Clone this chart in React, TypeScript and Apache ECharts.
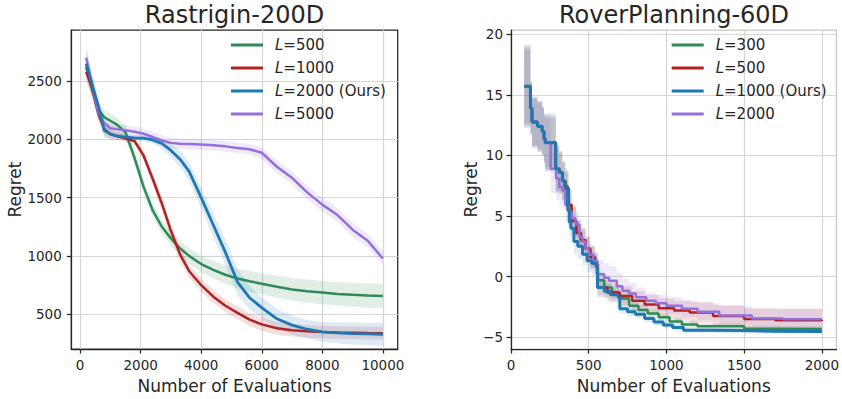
import React, { useEffect, useRef } from "react";
import * as echarts from "echarts";

// ---------- Rastrigin-200D ----------
const rastX = [200, 400, 600, 800, 1000, 1200, 1500, 1800, 2100, 2400, 2700, 3000, 3300, 3600, 4000, 4400, 4800, 5200, 5600, 6000, 6500, 7000, 7500, 8000, 8500, 9000, 9500, 10000];
const rastL500 = [2620, 2420, 2260, 2190, 2160, 2130, 2060, 1840, 1590, 1390, 1250, 1150, 1065, 1000, 930, 880, 838, 805, 782, 760, 735, 712, 697, 685, 673, 666, 660, 655];
const rastL500Spread = [80, 70, 60, 60, 60, 60, 60, 60, 60, 60, 60, 60, 60, 65, 70, 75, 80, 85, 90, 90, 95, 95, 100, 100, 100, 100, 105, 105];
const rastL1000 = [2580, 2440, 2220, 2090, 2045, 2030, 2008, 1985, 1860, 1660, 1450, 1215, 1013, 870, 748, 650, 572, 510, 452, 412, 378, 362, 352, 346, 341, 339, 337, 336];
const rastL1000Spread = [80, 70, 60, 50, 40, 35, 30, 30, 40, 50, 60, 60, 60, 55, 55, 55, 55, 55, 55, 55, 55, 55, 55, 55, 55, 55, 55, 55];
const rastL2000 = [2650, 2470, 2290, 2075, 2045, 2030, 2020, 2012, 2010, 1995, 1965, 1905, 1830, 1725, 1500, 1265, 1030, 775, 640, 555, 460, 405, 370, 348, 338, 333, 330, 327];
const rastL2000Spread = [110, 90, 80, 60, 40, 30, 25, 25, 25, 30, 40, 60, 70, 80, 90, 100, 110, 110, 100, 90, 85, 80, 80, 85, 90, 95, 95, 100];
const rastL5000 = [2700, 2470, 2230, 2140, 2095, 2088, 2078, 2065, 2048, 2020, 1990, 1970, 1963, 1960, 1955, 1950, 1940, 1925, 1915, 1885, 1765, 1670, 1545, 1440, 1350, 1225, 1130, 977];
const rastL5000Spread = [100, 80, 60, 50, 45, 45, 45, 45, 45, 45, 45, 45, 45, 45, 45, 45, 45, 45, 45, 50, 55, 55, 60, 60, 60, 60, 60, 60];
const rastXTicks = [0, 2000, 4000, 6000, 8000, 10000];
const rastYTicks = [500, 1000, 1500, 2000, 2500];

// ---------- RoverPlanning-60D ----------
const roverL300X = [85, 125, 135, 170, 200, 212, 220, 288, 310, 330, 350, 370, 390, 420, 450, 480, 510, 540, 560, 600, 650, 700, 760, 820, 880, 950, 1020, 1100, 1200, 1500, 1700, 2000];
const roverL300 = [15.7, 13.9, 12.75, 12.4, 12.0, 11.4, 11.05, 8.9, 8.6, 7.9, 7.3, 5.9, 4.6, 3.6, 3.0, 2.3, 1.6, 1.0, -0.3, -0.9, -1.3, -1.8, -2.4, -2.75, -3.05, -3.35, -3.7, -3.95, -4.1, -4.3, -4.33, -4.37];
const roverL300Spread = [3.0, 2.0, 1.9, 1.9, 1.8, 1.8, 2.0, 1.8, 1.6, 1.5, 1.3, 1.2, 1.1, 1.0, 1.0, 0.9, 0.9, 0.8, 0.7, 0.6, 0.5, 0.5, 0.45, 0.4, 0.35, 0.3, 0.3, 0.3, 0.25, 0.25, 0.25, 0.25];
const roverL500X = [85, 125, 135, 170, 200, 212, 220, 288, 310, 330, 350, 370, 390, 420, 450, 480, 510, 540, 556, 620, 700, 780, 860, 950, 1050, 1150, 1300, 1500, 1700, 2000];
const roverL500 = [15.7, 13.9, 12.75, 12.4, 12.0, 11.4, 11.05, 8.9, 8.6, 7.9, 7.3, 5.9, 4.6, 3.6, 3.0, 2.3, 1.6, 1.0, -0.9, -1.3, -1.6, -2.0, -2.3, -2.6, -2.8, -2.95, -3.25, -3.5, -3.6, -3.67];
const roverL500Spread = [3.2, 2.1, 2.0, 2.0, 2.0, 2.0, 2.2, 1.9, 1.7, 1.6, 1.4, 1.3, 1.2, 1.1, 1.0, 1.0, 0.9, 0.9, 0.8, 0.8, 0.8, 0.8, 0.8, 0.8, 0.8, 0.85, 0.9, 0.9, 0.95, 1.0];
const roverL1000X = [85, 125, 135, 170, 200, 212, 220, 288, 310, 330, 345, 365, 375, 385, 405, 430, 460, 490, 520, 550, 556, 600, 640, 690, 700, 750, 800, 860, 920, 980, 1040, 1110, 1300, 1500, 1700, 2000];
const roverL1000 = [15.7, 13.9, 12.75, 12.4, 12.0, 11.4, 11.05, 8.9, 8.6, 7.9, 7.45, 5.5, 4.5, 4.0, 2.9, 2.5, 1.85, 1.3, 1.1, 0.75, -0.9, -1.2, -1.5, -1.7, -2.65, -2.9, -3.1, -3.45, -3.75, -4.0, -4.2, -4.43, -4.45, -4.5, -4.52, -4.55];
const roverL1000Spread = [3.4, 2.2, 2.1, 2.1, 2.0, 2.0, 2.4, 2.0, 1.8, 1.6, 1.5, 1.3, 1.2, 1.1, 1.0, 1.0, 0.9, 0.9, 0.9, 0.8, 0.6, 0.6, 0.5, 0.5, 0.4, 0.4, 0.35, 0.3, 0.3, 0.25, 0.25, 0.2, 0.2, 0.2, 0.2, 0.2];
const roverL2000X = [85, 125, 135, 170, 200, 212, 220, 255, 290, 310, 330, 350, 370, 390, 416, 440, 459, 480, 502, 530, 556, 600, 631, 680, 717, 760, 803, 870, 932, 1000, 1100, 1200, 1340, 1550, 1750, 2000];
const roverL2000 = [15.7, 13.9, 12.75, 12.4, 12.0, 11.4, 11.05, 8.9, 8.1, 7.4, 7.1, 5.9, 5.35, 4.8, 4.3, 3.3, 2.9, 2.3, 1.8, 1.28, 0.2, -0.1, -0.35, -0.8, -1.17, -1.4, -1.7, -2.0, -2.2, -2.4, -2.65, -2.9, -3.2, -3.45, -3.52, -3.56];
const roverL2000Spread = [3.4, 2.2, 2.1, 2.1, 2.0, 2.0, 2.3, 2.0, 1.8, 1.6, 1.5, 1.3, 1.2, 1.1, 1.0, 1.0, 0.9, 0.9, 0.9, 0.8, 1.2, 1.2, 1.2, 1.1, 1.0, 0.9, 0.8, 0.7, 0.7, 0.7, 0.7, 0.7, 0.75, 0.8, 0.85, 0.9];
const roverXTicks = [0, 500, 1000, 1500, 2000];
const roverYTicks = [-5, 0, 5, 10, 15, 20];

// ---------- styling ----------
const FONT = "DejaVu Sans";
const TXT = "#262626";
const GREEN = "#2E8B57";
const RED = "#B22222";
const BLUE = "#1F77B4";
const PURPLE = "#9370DB";

const fmtNum = (v: number) => (v < 0 ? "\u2212" + Math.abs(v) : String(v));

function xAxisCfg(gi: number, min: number, max: number, ticks: number[]) {
  return {
    type: "value",
    gridIndex: gi,
    min,
    max,
    name: "Number of Evaluations",
    nameLocation: "middle",
    nameGap: 27,
    nameTextStyle: { fontFamily: FONT, fontSize: 17, color: TXT },
    axisLine: { show: true, onZero: false, lineStyle: { color: TXT, width: 1.25 } },
    axisTick: { show: true, customValues: ticks, length: 4.5, lineStyle: { color: TXT, width: 1.25 } },
    axisLabel: { customValues: ticks, margin: 9, fontFamily: FONT, fontSize: 13.5, color: TXT, formatter: fmtNum },
    splitLine: { show: true, lineStyle: { color: "#d6d6d6", width: 1.2 } },
  };
}

function yAxisCfg(gi: number, min: number, max: number, ticks: number[], nameGap: number, margin: number) {
  return {
    type: "value",
    gridIndex: gi,
    min,
    max,
    name: "Regret",
    nameLocation: "middle",
    nameGap,
    nameTextStyle: { fontFamily: FONT, fontSize: 17, color: TXT },
    axisLine: { show: true, onZero: false, lineStyle: { color: TXT, width: 1.25 } },
    axisTick: { show: true, customValues: ticks, length: 4.5, lineStyle: { color: TXT, width: 1.25 } },
    axisLabel: { customValues: ticks, margin, fontFamily: FONT, fontSize: 13.5, color: TXT, formatter: fmtNum },
    splitLine: { show: true, lineStyle: { color: "#d6d6d6", width: 1.2 } },
  };
}

function bandSeries(xs: number[], ys: number[], spread: number[], color: string, gi: number, step: boolean, opacity: number) {
  const data = xs.map((x, i) => [x, ys[i] - spread[i], ys[i] + spread[i]]);
  return {
    type: "custom",
    xAxisIndex: gi,
    yAxisIndex: gi,
    data,
    silent: true,
    clip: true,
    z: 1,
    encode: { x: 0, y: [1, 2] },
    renderItem: (params: any, api: any) => {
      if (params.dataIndex !== 0) return null;
      const up: number[][] = [];
      const dn: number[][] = [];
      for (let i = 0; i < data.length; i++) {
        up.push(api.coord([data[i][0], data[i][2]]));
        dn.push(api.coord([data[i][0], data[i][1]]));
        if (step && i < data.length - 1) {
          up.push(api.coord([data[i + 1][0], data[i][2]]));
          dn.push(api.coord([data[i + 1][0], data[i][1]]));
        }
      }
      return {
        type: "polygon",
        shape: { points: up.concat(dn.reverse()) },
        style: { fill: color, opacity },
      };
    },
  };
}

function lineSeries(name: string, xs: number[], ys: number[], color: string, gi: number, width: number, step: boolean, z: number) {
  return {
    type: "line",
    name,
    xAxisIndex: gi,
    yAxisIndex: gi,
    data: xs.map((x, i) => [x, ys[i]]),
    showSymbol: false,
    symbol: "none",
    step: step ? "end" : false,
    clip: true,
    z,
    itemStyle: { color },
    lineStyle: { color, width },
  };
}

const legendFormatter = (name: string) => {
  const label = name.split(":")[1];
  return "{i|L}{t|" + label.slice(1) + "}";
};

const legendText = {
  fontFamily: FONT,
  fontSize: 15,
  color: TXT,
  lineHeight: 18,
  rich: {
    i: { fontFamily: FONT, fontSize: 15, fontStyle: "italic", color: TXT, lineHeight: 18, padding: [0, 0, 0, 7] },
    t: { fontFamily: FONT, fontSize: 15, color: TXT, lineHeight: 18 },
  },
};

function legendCfg(left: number, names: string[]) {
  return {
    orient: "vertical",
    left,
    top: 36,
    padding: 0,
    itemGap: 5,
    itemWidth: 32,
    itemHeight: 3,
    icon: "rect",
    selectedMode: false,
    data: names,
    formatter: legendFormatter,
    textStyle: legendText,
  };
}

export default function App() {
  const ref = useRef<HTMLDivElement>(null);
  useEffect(() => {
    const chart = echarts.init(ref.current!, null, { renderer: "svg" });
    const option: any = {
      animation: false,
      backgroundColor: "#ffffff",
      title: [
        { text: "Rastrigin-200D", left: 234.5, textAlign: "center", top: 3, padding: 0, textStyle: { fontFamily: FONT, fontSize: 24, fontWeight: "normal", color: TXT } },
        { text: "RoverPlanning-60D", left: 674, textAlign: "center", top: 3, padding: 0, textStyle: { fontFamily: FONT, fontSize: 24, fontWeight: "normal", color: TXT } },
      ],
      grid: [
        { left: 71.3, top: 30, width: 326.4, height: 322.7, show: true, borderColor: TXT, borderWidth: 1.25, backgroundColor: "transparent" },
        { left: 511, top: 30, width: 326.5, height: 322.7, show: true, borderColor: "#c8c8c8", borderWidth: 1.25, backgroundColor: "transparent" },
      ],
      xAxis: [xAxisCfg(0, -290, 10490, rastXTicks), xAxisCfg(1, 0, 2094, roverXTicks)],
      yAxis: [yAxisCfg(0, 199.5, 2939, rastYTicks, 48, 9.5), yAxisCfg(1, -5.98, 20.35, roverYTicks, 29.5, 8)],
      legend: [
        legendCfg(231, ["A:L=500", "A:L=1000", "A:L=2000 (Ours)", "A:L=5000"]),
        legendCfg(671.7, ["B:L=300", "B:L=500", "B:L=1000 (Ours)", "B:L=2000"]),
      ],
      series: [
        bandSeries(rastX, rastL500, rastL500Spread, GREEN, 0, false, 0.15),
        bandSeries(rastX, rastL1000, rastL1000Spread, RED, 0, false, 0.15),
        bandSeries(rastX, rastL5000, rastL5000Spread, PURPLE, 0, false, 0.15),
        bandSeries(rastX, rastL2000, rastL2000Spread, BLUE, 0, false, 0.15),
        lineSeries("A:L=500", rastX, rastL500, GREEN, 0, 2.5, false, 3),
        lineSeries("A:L=1000", rastX, rastL1000, RED, 0, 2.5, false, 4),
        lineSeries("A:L=5000", rastX, rastL5000, PURPLE, 0, 2.5, false, 5),
        lineSeries("A:L=2000 (Ours)", rastX, rastL2000, BLUE, 0, 2.8, false, 6),

        bandSeries(roverL300X, roverL300, roverL300Spread, GREEN, 1, true, 0.15),
        bandSeries(roverL500X, roverL500, roverL500Spread, RED, 1, true, 0.15),
        bandSeries(roverL2000X, roverL2000, roverL2000Spread, PURPLE, 1, true, 0.15),
        bandSeries(roverL1000X, roverL1000, roverL1000Spread, BLUE, 1, true, 0.15),
        lineSeries("B:L=300", roverL300X, roverL300, GREEN, 1, 2.5, true, 3),
        lineSeries("B:L=500", roverL500X, roverL500, RED, 1, 2.5, true, 4),
        lineSeries("B:L=2000", roverL2000X, roverL2000, PURPLE, 1, 2.5, true, 5),
        lineSeries("B:L=1000 (Ours)", roverL1000X, roverL1000, BLUE, 1, 3, true, 6),
      ],
    };
    chart.setOption(option);
    return () => chart.dispose();
  }, []);
  return <div ref={ref} style={{ position: "absolute", left: 0, top: 0, width: 842, height: 399 }} />;
}
